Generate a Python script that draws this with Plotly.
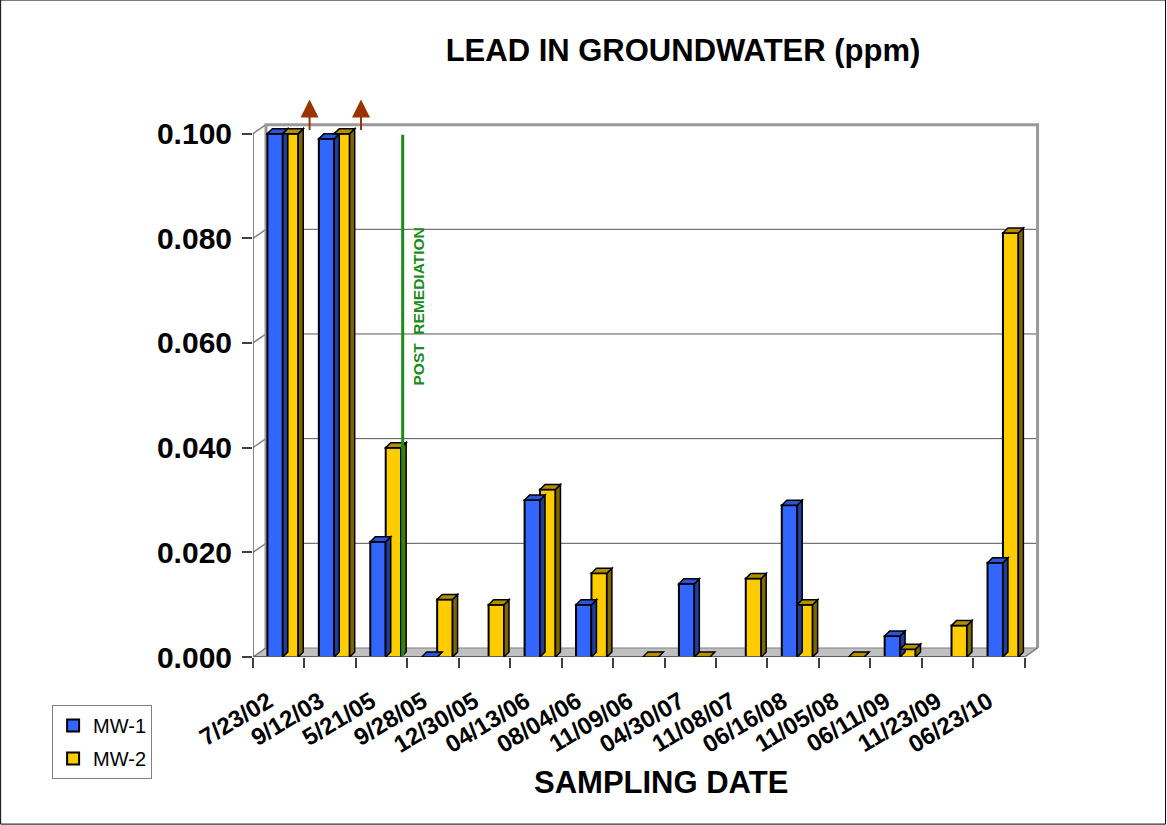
import plotly.graph_objects as go

# ---------------- data ----------------
dates = ["7/23/02", "9/12/03", "5/21/05", "9/28/05", "12/30/05", "04/13/06", "08/04/06",
         "11/09/06", "04/30/07", "11/08/07", "06/16/08", "11/05/08", "06/11/09", "11/23/09", "06/23/10"]
mw1 = [0.100, 0.099, 0.022, 0.000, None, 0.030, 0.010, None, 0.014, None, 0.029, None, 0.004, None, 0.018]
mw2 = [0.100, 0.100, 0.040, 0.011, 0.010, 0.032, 0.016, 0.000, 0.000, 0.015, 0.010, 0.000, 0.0015, 0.006, 0.081]
y_ticks = [0.0, 0.02, 0.04, 0.06, 0.08, 0.10]
offscale_idx = [0, 1]          # categories whose values exceed the axis (arrows)
remediation_pos = 2.41         # between 5/21/05 and 9/28/05

# ---------------- geometry / style ----------------
W, H = 1167, 825
L, R, T, B = 253, 1040.4, 97.4, 657
XMIN, XMAX = -0.5, 14.8
YMAX = 0.107
XLAST = len(dates) - 0.5
pxx = (R - L) / (XMAX - XMIN)      # px per x unit
pxy = (B - T) / YMAX               # px per y unit
WDX, WDY = 13 / pxx, 9 / pxy       # back wall depth offset
BDX, BDY = 5 / pxx, 5 / pxy        # bar depth
BW = 0.30
OFF1, OFF2 = -0.22, 0.08
FONT = "Arial, Liberation Sans, sans-serif"
BLUE, BLUE_SIDE, BLUE_TOP = "#3366FF", "#1f3d99", "#2a55d9"
YEL, YEL_SIDE, YEL_TOP = "#FFCC00", "#806600", "#b38f00"
GRID = "#808080"


def ppx(px):
    return (px - L) / (R - L)


def ppy(py):
    return (B - py) / (B - T)


xs = list(range(len(dates)))
fig = go.Figure()
fig.add_trace(go.Bar(x=xs, y=mw1, name="MW-1", offset=OFF1, width=BW, legendgroup="a",
                     marker=dict(color=BLUE, line=dict(color="black", width=2))))
fig.add_trace(go.Bar(x=xs, y=mw2, name="MW-2", offset=OFF2, width=BW, legendgroup="b",
                     marker=dict(color=YEL, line=dict(color="black", width=2))))

shapes = []
# floor
shapes.append(dict(type="path", layer="below", xref="x", yref="y",
                   path=f"M {XMIN},0 L {XLAST},0 L {XLAST+WDX},{WDY} L {XMIN+WDX},{WDY} Z",
                   fillcolor="#c0c0c0", line=dict(color=GRID, width=1)))
# back wall gridlines and left wall diagonals
for v in y_ticks[1:-1]:
    shapes.append(dict(type="line", layer="below", xref="x", yref="y",
                       x0=XMIN + WDX, x1=XLAST + WDX, y0=v + WDY, y1=v + WDY,
                       line=dict(color="#555555", width=1)))
for v in y_ticks:
    shapes.append(dict(type="line", layer="below", xref="x", yref="y",
                       x0=XMIN, x1=XMIN + WDX, y0=v, y1=v + WDY,
                       line=dict(color=GRID, width=1.5)))
# back wall frame
shapes.append(dict(type="path", layer="below", xref="x", yref="y",
                   path=f"M {XMIN+WDX},{WDY} L {XMIN+WDX},{0.1+WDY} L {XLAST+WDX},{0.1+WDY} L {XLAST+WDX},{WDY}",
                   line=dict(color="#999999", width=3)))
# front axis lines
shapes.append(dict(type="line", layer="above", xref="x", yref="y", x0=XMIN, x1=XMIN, y0=0, y1=0.1,
                   line=dict(color="#606060", width=1.5)))
shapes.append(dict(type="line", layer="above", xref="x", yref="y", x0=XMIN, x1=XLAST, y0=0, y1=0,
                   line=dict(color="#606060", width=2)))
shapes.append(dict(type="line", layer="above", xref="x", yref="y", x0=XLAST, x1=XLAST + WDX, y0=0, y1=WDY,
                   line=dict(color="#808080", width=1.5)))

# 3D faces of bars
for vals, off, side, top in [(mw1, OFF1, BLUE_SIDE, BLUE_TOP), (mw2, OFF2, YEL_SIDE, YEL_TOP)]:
    for i, v in enumerate(vals):
        if v is None:
            continue
        x0 = i + off
        x1 = x0 + BW
        shapes.append(dict(type="path", layer="above", xref="x", yref="y",
                           path=f"M {x1},0 L {x1+BDX},{BDY} L {x1+BDX},{v+BDY} L {x1},{v} Z",
                           fillcolor=side, line=dict(color="black", width=1.5)))
        shapes.append(dict(type="path", layer="above", xref="x", yref="y",
                           path=f"M {x0},{v} L {x0+BDX},{v+BDY} L {x1+BDX},{v+BDY} L {x1},{v} Z",
                           fillcolor=top, line=dict(color="black", width=1.5)))

# post remediation line
shapes.append(dict(type="line", layer="above", xref="x", yref="y",
                   x0=remediation_pos, x1=remediation_pos, y0=0, y1=0.0998,
                   line=dict(color="#1a8c1a", width=3)))
# outer frame
shapes.append(dict(type="rect", xref="paper", yref="paper",
                   x0=ppx(0.5), x1=ppx(W - 1), y0=ppy(H - 1), y1=ppy(0.5),
                   line=dict(color="black", width=1)))

annotations = [
    dict(text="<b>POST  REMEDIATION</b>", x=remediation_pos + 0.3, y=0.067, xref="x", yref="y",
         textangle=-90, showarrow=False, font=dict(family=FONT, size=15.5, color="#1a8c1a")),
    dict(text="<b>SAMPLING DATE</b>", x=ppx(661), y=ppy(782), xref="paper", yref="paper",
         xanchor="center", yanchor="middle",
         showarrow=False, font=dict(family=FONT, size=31, color="black")),
]
for i in offscale_idx:
    annotations.append(dict(text="", x=i + 0.6, y=0.1065, xref="x", yref="y",
                            ax=0, ay=32, showarrow=True, arrowhead=2, arrowsize=1.8,
                            arrowwidth=2, arrowcolor="#993300"))

fig.update_layout(
    width=W, height=H,
    margin=dict(l=L, r=W - R, t=T, b=H - B, pad=0),
    paper_bgcolor="white", plot_bgcolor="white",
    barmode="overlay",
    title=dict(text="<b>LEAD IN GROUNDWATER (ppm)</b>", x=683 / W, y=1 - 50 / H,
               xanchor="center", yanchor="middle", xref="container", yref="container",
               font=dict(family=FONT, size=31, color="black")),
    xaxis=dict(range=[XMIN, XMAX], tickvals=[i - 0.2 for i in xs], ticktext=[f"<b>{d}</b>" for d in dates],
               tickangle=-31, ticks="", showgrid=False, zeroline=False, showline=False,
               ticklabelstandoff=25,
               tickfont=dict(family=FONT, size=24, color="black"),
               minor=dict(tick0=-0.5, dtick=1, ticks="outside", ticklen=10, tickcolor="#404040",
                          tickwidth=1.5, showgrid=False)),
    yaxis=dict(range=[0, YMAX], tickvals=y_ticks, ticktext=[f"<b>{v:.3f}</b>" for v in y_ticks],
               ticks="outside", ticklen=10, tickcolor="#404040", tickwidth=1.5,
               showgrid=False, zeroline=False, showline=False, ticklabelstandoff=4,
               tickfont=dict(family=FONT, size=30, color="black")),
    legend=dict(x=ppx(52), y=ppy(705), xanchor="left", yanchor="top",
                bordercolor="#808080", borderwidth=1, bgcolor="white",
                font=dict(family=FONT, size=20, color="black"), tracegroupgap=4),
    shapes=shapes,
    annotations=annotations,
    showlegend=True,
)

fig.write_html("out.html", post_script="document.body.style.margin='0';",
               config={"displayModeBar": False})
